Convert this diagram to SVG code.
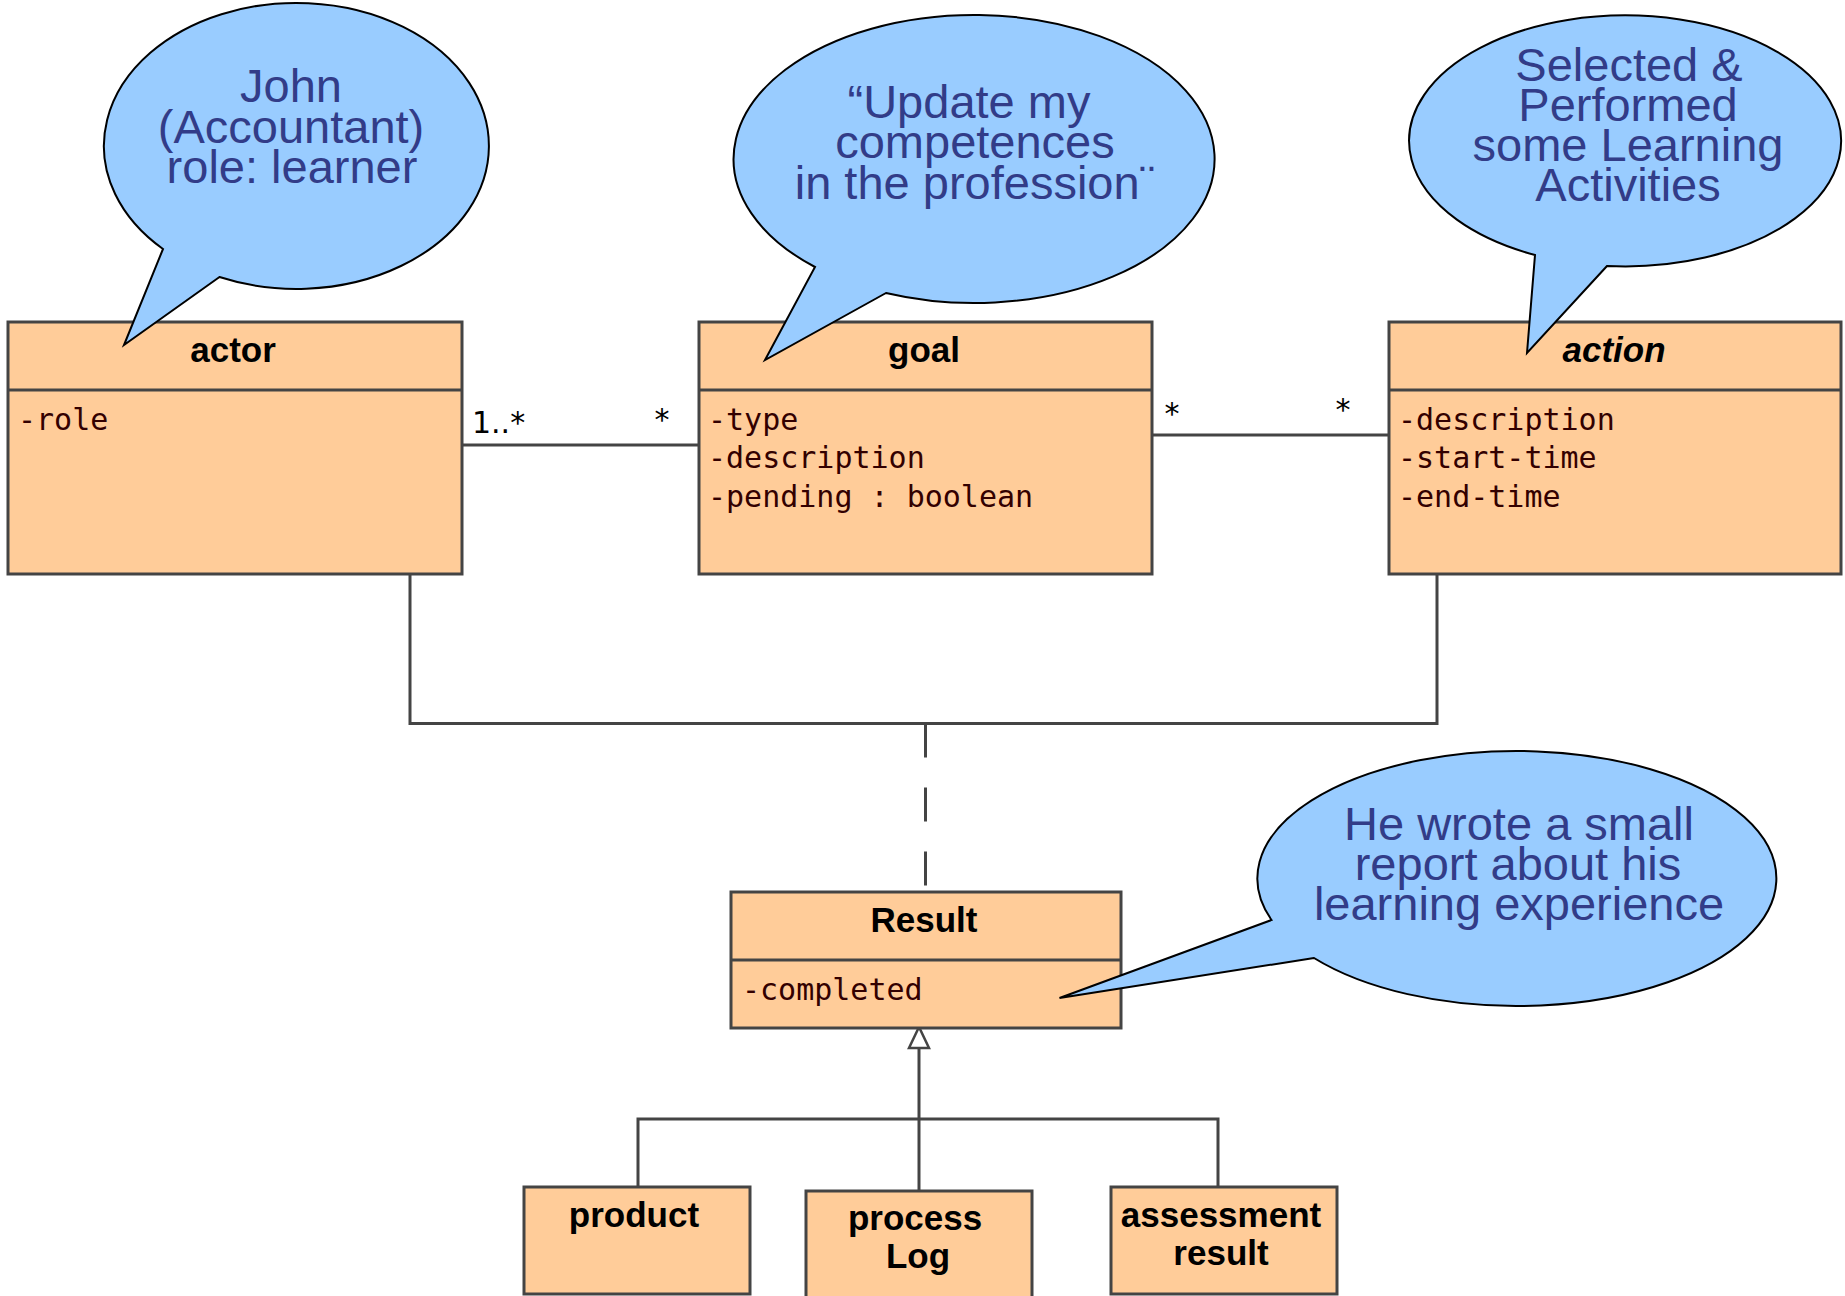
<svg xmlns="http://www.w3.org/2000/svg" width="1845" height="1296" viewBox="0 0 1845 1296">
  <style>
    .box { fill: #FFCC99; stroke: #444444; stroke-width: 3; }
    .div { stroke: #444444; stroke-width: 3; fill: none; }
    .title { font-family: "Liberation Sans", Arial, sans-serif; font-weight: bold; font-size: 35px; fill: #000000; text-anchor: middle; }
    .attr { font-family: "DejaVu Sans Mono", "Liberation Mono", monospace; font-size: 30px; fill: #330000; }
    .line { stroke: #444444; stroke-width: 3; fill: none; }
    .mult { font-family: "DejaVu Sans", sans-serif; font-size: 30px; fill: #000000; }
    .bubble { fill: #99CCFF; stroke: #000000; stroke-width: 2; stroke-linejoin: miter; }
    .note { font-family: "Liberation Sans", Arial, sans-serif; font-size: 47px; fill: #323C88; text-anchor: middle; }
  </style>

  <!-- connectors -->
  <g id="connectors">
    <!-- actor - goal association -->
    <line class="line" x1="462" y1="445" x2="699" y2="445"/>
    <text class="mult" x="472" y="433">1..*</text>
    <text class="mult" x="662" y="430" text-anchor="middle">*</text>
    <!-- goal - action association -->
    <line class="line" x1="1152" y1="435" x2="1389" y2="435"/>
    <text class="mult" x="1172" y="424" text-anchor="middle">*</text>
    <text class="mult" x="1343" y="420" text-anchor="middle">*</text>
    <!-- ternary bracket to Result -->
    <polyline class="line" points="410,574 410,723.5 1437,723.5 1437,574"/>
    <line class="line" x1="925.5" y1="723.5" x2="925.5" y2="891" stroke-dasharray="34 30"/>
    <!-- generalization tree -->
    <polyline class="line" points="638,1187 638,1119 1218,1119 1218,1187"/>
    <line class="line" x1="919" y1="1048" x2="919" y2="1191"/>
    <polygon points="919,1027 909,1048 929,1048" fill="#FFFFFF" stroke="#444444" stroke-width="2.5"/>
  </g>

  <!-- class: actor -->
  <g id="actor">
    <rect class="box" x="8" y="322" width="454" height="252"/>
    <line class="div" x1="8" y1="390" x2="462" y2="390"/>
    <text class="title" x="233" y="362">actor</text>
    <text class="attr" x="18" y="430">-role</text>
  </g>

  <!-- class: goal -->
  <g id="goal">
    <rect class="box" x="699" y="322" width="453" height="252"/>
    <line class="div" x1="699" y1="390" x2="1152" y2="390"/>
    <text class="title" x="924" y="362">goal</text>
    <text class="attr" x="708" y="430">-type</text>
    <text class="attr" x="708" y="468">-description</text>
    <text class="attr" x="708" y="507">-pending : boolean</text>
  </g>

  <!-- class: action (abstract) -->
  <g id="action">
    <rect class="box" x="1389" y="322" width="452" height="252"/>
    <line class="div" x1="1389" y1="390" x2="1841" y2="390"/>
    <text class="title" x="1614" y="362" font-style="italic">action</text>
    <text class="attr" x="1398" y="430">-description</text>
    <text class="attr" x="1398" y="468">-start-time</text>
    <text class="attr" x="1398" y="507">-end-time</text>
  </g>

  <!-- class: Result -->
  <g id="result">
    <rect class="box" x="731" y="892" width="390" height="136"/>
    <line class="div" x1="731" y1="960" x2="1121" y2="960"/>
    <text class="title" x="924" y="932">Result</text>
    <text class="attr" x="742" y="1000">-completed</text>
  </g>

  <!-- subclasses of Result -->
  <g id="product">
    <rect class="box" x="524" y="1187" width="226" height="107" stroke-width="3.5"/>
    <text class="title" x="634" y="1227">product</text>
  </g>
  <g id="process-log">
    <rect class="box" x="806" y="1191" width="226" height="110" stroke-width="3.5"/>
    <text class="title" x="915" y="1230">process</text>
    <text class="title" x="918" y="1268">Log</text>
  </g>
  <g id="assessment-result">
    <rect class="box" x="1111" y="1187" width="226" height="107" stroke-width="3.5"/>
    <text class="title" x="1221" y="1227">assessment</text>
    <text class="title" x="1221" y="1265">result</text>
  </g>

  <!-- callouts -->
  <g id="note-actor">
    <path class="bubble" d="M 219.5 277 L 124 345 L 163 249 A 192.5 143 0 1 1 219.5 277 Z"/>
    <text class="note" x="291" y="102">John</text>
    <text class="note" x="291" y="143">(Accountant)</text>
    <text class="note" x="292" y="183">role: learner</text>
  </g>
  <g id="note-goal">
    <path class="bubble" d="M 886 293 L 765 360 L 815 267 A 240.5 144 0 1 1 886 293 Z"/>
    <text class="note" x="969" y="118">“Update my</text>
    <text class="note" x="975" y="158">competences</text>
    <text class="note" x="975" y="199">in the profession¨</text>
  </g>
  <g id="note-action">
    <path class="bubble" d="M 1607 266 L 1527 353 L 1535 255 A 216 125.5 0 1 1 1607 266 Z"/>
    <text class="note" x="1629" y="81">Selected &amp;</text>
    <text class="note" x="1628" y="121">Performed</text>
    <text class="note" x="1628" y="161">some Learning</text>
    <text class="note" x="1628" y="201">Activities</text>
  </g>
  <g id="note-result">
    <path class="bubble" d="M 1314 958 L 1059.5 998 L 1271.5 920 A 259.5 127.5 0 1 1 1314 958 Z"/>
    <text class="note" x="1519" y="840">He wrote a small</text>
    <text class="note" x="1518" y="880">report about his</text>
    <text class="note" x="1519" y="920">learning experience</text>
  </g>
</svg>
